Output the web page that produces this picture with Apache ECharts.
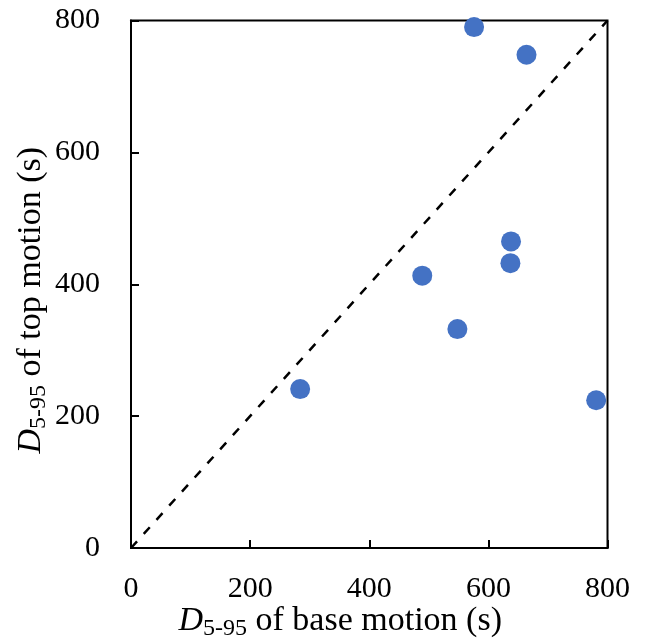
<!DOCTYPE html>
<html>
<head>
<meta charset="utf-8">
<script src="https://cdn.jsdelivr.net/npm/echarts@6/dist/echarts.min.js"></script>
<style>
html,body{margin:0;padding:0;background:#fff;}
#chart{width:646px;height:640px;}
</style>
</head>
<body>
<div id="chart"></div>
<script>
// Data
const baseD595 = [576, 664, 638, 637, 489, 548, 284, 781];
const topD595  = [790, 748, 465, 432, 413, 332, 241, 224];
const diagonal = [0, 800];
const ticks = [0, 200, 400, 600, 800];

const FONT = 'Liberation Serif';
const points = baseD595.map((x, i) => [x, topD595[i]]);
const diagLine = diagonal.map(v => [v, v]);

const richName = {
  i: { fontFamily: FONT, fontStyle: 'italic', fontSize: 34, lineHeight: 40, color: '#000' },
  s: { fontFamily: FONT, fontSize: 24, lineHeight: 22, verticalAlign: 'bottom', color: '#000' },
  n: { fontFamily: FONT, fontSize: 34, lineHeight: 40, color: '#000' }
};

const axisCommon = {
  type: 'value', min: ticks[0], max: ticks[ticks.length - 1], interval: 200,
  splitLine: { show: false },
  axisLine: { show: true, lineStyle: { color: '#000', width: 2 } },
  axisTick: { show: true, inside: true, length: 8, lineStyle: { color: '#000', width: 2 } },
  axisLabel: { fontFamily: FONT, fontSize: 30, color: '#000' },
  nameLocation: 'middle',
  nameMoveOverlap: false
};

const chart = echarts.init(document.getElementById('chart'), null, { renderer: 'canvas' });
chart.setOption({
  animation: false,
  backgroundColor: '#fff',
  grid: {
    left: 131, right: 38.5, top: 20.5, bottom: 92,
    containLabel: false, outerBoundsMode: 'none',
    show: true, borderColor: '#000', borderWidth: 2
  },
  xAxis: Object.assign({}, axisCommon, {
    name: '{i|D}{s|5-95}{n| of base motion (s)}',
    nameGap: 53,
    nameTextStyle: { rich: richName, padding: [0, 58, 0, 0] },
    axisLabel: Object.assign({}, axisCommon.axisLabel, { margin: 26 })
  }),
  yAxis: Object.assign({}, axisCommon, {
    name: '{i|D}{s|5-95}{n| of top motion (s)}',
    nameGap: 80,
    nameTextStyle: { rich: richName, padding: [0, 32, 0, 0] },
    axisLabel: Object.assign({}, axisCommon.axisLabel, { margin: 31 })
  }),
  series: [
    {
      type: 'line', data: diagLine, showSymbol: false, symbol: 'none',
      lineStyle: { color: '#000', width: 2.5, type: [9, 10] }, z: 1
    },
    {
      type: 'scatter', data: points, symbolSize: 20,
      itemStyle: { color: '#4472C4', opacity: 1 }, z: 2
    }
  ]
});
</script>
</body>
</html>
